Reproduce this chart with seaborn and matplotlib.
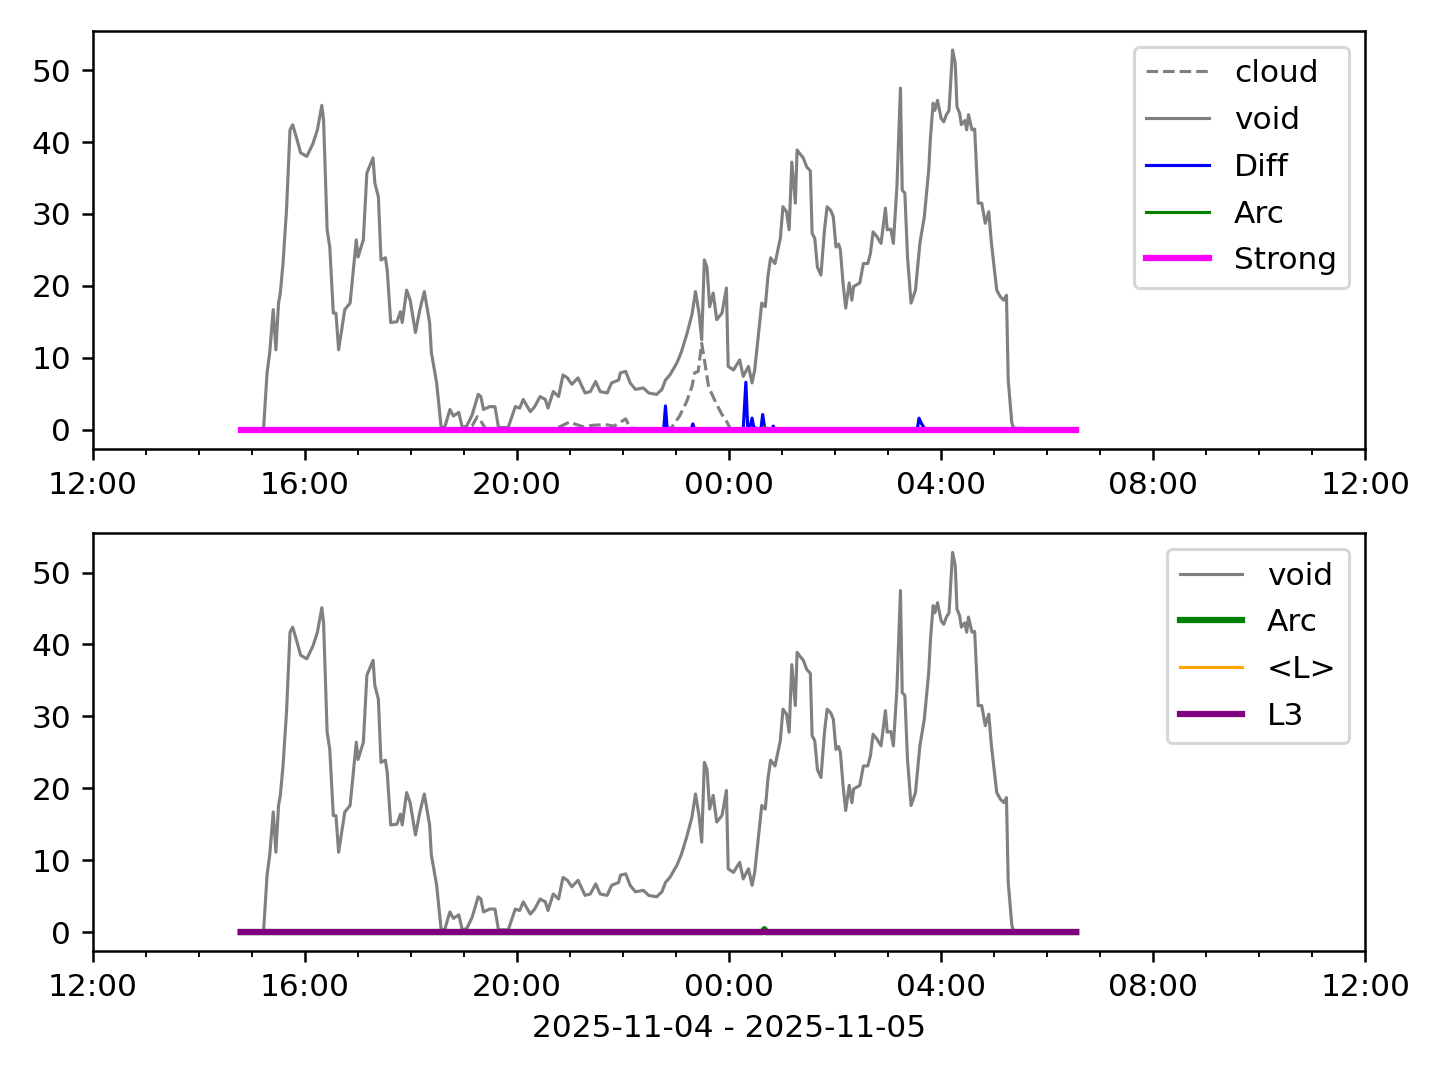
import numpy as np
import pandas as pd
import matplotlib
matplotlib.use("Agg")
import matplotlib.pyplot as plt
import matplotlib.dates as mdates
import seaborn as sns

# ---------------- DATA ----------------
void_times = ["14:47", "15:13", "15:17", "15:20", "15:24", "15:27", "15:30", "15:32", "15:35", "15:39",
              "15:43", "15:46", "15:51", "15:55", "16:02", "16:09", "16:14", "16:19", "16:21", "16:25",
              "16:28", "16:32", "16:35", "16:38", "16:45", "16:51", "16:58", "17:00", "17:06", "17:10",
              "17:17", "17:19", "17:23", "17:26", "17:31", "17:33", "17:37", "17:44", "17:48", "17:50",
              "17:55", "17:59", "18:05", "18:10", "18:15", "18:21", "18:23", "18:29", "18:34", "18:38",
              "18:44", "18:48", "18:54", "18:58", "19:03", "19:09", "19:16", "19:19", "19:22", "19:29",
              "19:35", "19:39", "19:44", "19:50", "19:58", "20:03", "20:07", "20:15", "20:20", "20:26",
              "20:32", "20:35", "20:41", "20:47", "20:52", "20:57", "21:02", "21:09", "21:17", "21:23",
              "21:29", "21:34", "21:42", "21:47", "21:55", "21:57", "22:03", "22:08", "22:14", "22:23",
              "22:29", "22:38", "22:44", "22:48", "22:53", "23:01", "23:06", "23:12", "23:18", "23:22",
              "23:26", "23:29", "23:32", "23:35", "23:38", "23:42", "23:46", "23:52", "23:57", "23:59",
              "00:05", "00:12", "00:16", "00:22", "00:26", "00:29", "00:33", "00:37", "00:41", "00:44",
              "00:47", "00:52", "00:58", "01:01", "01:05", "01:08", "01:11", "01:15", "01:17", "01:20",
              "01:24", "01:28", "01:32", "01:34", "01:37", "01:40", "01:44", "01:48", "01:51", "01:55",
              "01:58", "02:01", "02:04", "02:06", "02:09", "02:12", "02:16", "02:19", "02:21", "02:28",
              "02:32", "02:37", "02:40", "02:43", "02:47", "02:52", "02:57", "02:59", "03:03", "03:06",
              "03:10", "03:14", "03:16", "03:19", "03:22", "03:26", "03:31", "03:36", "03:41", "03:46",
              "03:48", "03:51", "03:53", "03:56", "04:00", "04:03", "04:06", "04:09", "04:13", "04:16",
              "04:18", "04:21", "04:23", "04:27", "04:29", "04:31", "04:35", "04:38", "04:42", "04:46",
              "04:50", "04:54", "04:57", "05:03", "05:07", "05:11", "05:14", "05:16", "05:20", "05:22",
              "06:33"]
void_values = [0, 0, 7.9, 10.7, 16.7, 11.1, 17.6, 19.0, 23.0, 30.5,
               41.7, 42.4, 40.3, 38.5, 38.0, 39.8, 41.7, 45.1, 43.0, 27.8,
               25.4, 16.2, 16.2, 11.1, 16.7, 17.6, 26.4, 24.0, 26.4, 35.7,
               37.8, 34.3, 32.4, 23.6, 23.9, 22.2, 14.9, 15.0, 16.4, 14.9,
               19.4, 18.0, 13.5, 16.7, 19.2, 14.9, 10.7, 6.5, 0.4, 0.3,
               2.8, 1.9, 2.4, 0.3, 0.5, 2.0, 4.9, 4.6, 2.8, 3.2,
               3.2, 0.3, 0.3, 0.3, 3.2, 3.0, 4.2, 2.5, 3.2, 4.6,
               4.2, 3.0, 5.3, 4.6, 7.6, 7.2, 6.3, 7.2, 5.1, 5.3,
               6.7, 5.3, 5.1, 6.5, 6.9, 7.9, 8.1, 6.5, 5.6, 5.8,
               5.1, 4.9, 5.6, 6.9, 7.6, 9.3, 10.8, 13.2, 16.0, 19.2,
               16.2, 12.5, 23.6, 22.6, 17.1, 19.0, 15.3, 16.2, 19.7, 8.8,
               8.3, 9.7, 7.4, 8.8, 6.5, 8.3, 12.9, 17.6, 17.1, 21.3,
               23.9, 23.1, 26.6, 31.0, 30.3, 27.8, 37.2, 31.5, 38.9, 38.4,
               37.8, 36.5, 36.0, 27.3, 26.6, 22.6, 21.5, 27.8, 31.0, 30.5,
               29.6, 25.4, 25.8, 25.0, 20.4, 16.9, 20.4, 18.0, 19.9, 20.4,
               23.1, 23.1, 24.5, 27.5, 26.9, 25.9, 30.8, 27.8, 27.9, 25.9,
               33.8, 47.5, 33.3, 32.9, 24.0, 17.6, 19.4, 25.9, 29.6, 36.1,
               40.7, 45.4, 44.4, 45.8, 43.3, 42.8, 43.8, 44.4, 52.8, 51.0,
               44.9, 44.0, 42.4, 43.0, 41.7, 43.8, 41.7, 41.8, 31.5, 31.5,
               28.7, 30.3, 25.9, 19.4, 18.5, 18.0, 18.7, 6.9, 1.0, 0.2,
               0]

cloud_times = ["14:47", "18:58", "19:09", "19:15", "19:20", "19:25", "20:41", "20:50", "21:00",
               "21:05", "21:15", "21:25", "21:40", "21:50", "22:03", "22:08", "22:45", "22:55",
               "23:04", "23:12", "23:18", "23:21", "23:25", "23:29", "23:33", "23:37", "23:40",
               "23:46", "23:52", "23:57", "00:02", "06:33"]
cloud_values = [0, 0, 0.5, 1.8, 1.0, 0, 0, 0.5, 1.1,
                0.8, 0.4, 0.6, 0.7, 0.5, 1.5, 0.2, 0, 0.3,
                1.9, 3.9, 6.0, 7.9, 8.1, 12.0, 9.0, 5.8, 5.1,
                3.5, 2.1, 1.2, 0, 0]

diff_times = ["14:47", "22:46", "22:48", "22:50", "23:17", "23:19", "23:21", "00:16", "00:19",
              "00:21", "00:23", "00:26", "00:28", "00:36", "00:38", "00:40", "00:42", "00:49",
              "00:50", "00:52", "03:33", "03:35", "03:38", "03:40", "03:42", "06:33"]
diff_values = [0, 0, 3.3, 0, 0, 0.8, 0, 0, 6.6,
               0.5, 0, 1.6, 0.3, 0, 2.1, 0.5, 0, 0,
               0.5, 0, 0, 1.6, 0.8, 0.4, 0, 0]

arc_times = ["14:47", "00:38", "00:40", "00:42", "06:33"]
arc_values = [0, 0, 0.4, 0, 0]

strong_times = ["14:47", "06:33"]
strong_values = [0, 0]
meanL_times = ["14:47", "06:33"]
meanL_values = [0, 0]
l3_times = ["14:47", "06:33"]
l3_values = [0, 0]

x_start = "2025-11-04 12:00"
x_end = "2025-11-05 12:00"
xlabel = "2025-11-04 - 2025-11-05"


def to_dt(times):
    out = []
    for t in times:
        h = int(t.split(":")[0])
        day = "2025-11-04" if h >= 12 else "2025-11-05"
        out.append(pd.Timestamp(f"{day} {t}"))
    return pd.to_datetime(out)


sns.set_style("ticks", {"axes.edgecolor": "black", "xtick.color": "black",
                        "ytick.color": "black", "text.color": "black",
                        "axes.labelcolor": "black"})
plt.rcParams["font.family"] = ["DejaVu Sans"]
plt.rcParams["lines.solid_capstyle"] = "projecting"
plt.rcParams["font.size"] = 10

fig, (ax1, ax2) = plt.subplots(2, 1, figsize=(6.4, 4.8), dpi=225)
fig.subplots_adjust(left=0.0646, right=0.948, top=0.9713, bottom=0.1194, hspace=0.203)


def draw(ax, times, values, **kw):
    sns.lineplot(x=to_dt(times), y=values, ax=ax, estimator=None, sort=True, **kw)


draw(ax1, cloud_times, cloud_values, color="gray", lw=1, linestyle="--", label="cloud")
draw(ax1, void_times, void_values, color="gray", lw=1, label="void")
draw(ax1, diff_times, diff_values, color="blue", lw=1, label="Diff")
draw(ax1, arc_times, arc_values, color="green", lw=1, label="Arc")
draw(ax1, strong_times, strong_values, color="magenta", lw=2, label="Strong")

draw(ax2, void_times, void_values, color="gray", lw=1, label="void")
draw(ax2, arc_times, arc_values, color="green", lw=2, label="Arc")
draw(ax2, meanL_times, meanL_values, color="orange", lw=1, label="<L>")
draw(ax2, l3_times, l3_values, color="purple", lw=2, label="L3")

for ax in (ax1, ax2):
    ax.set_xlim(pd.Timestamp(x_start), pd.Timestamp(x_end))
    ax.xaxis.set_major_locator(mdates.HourLocator(byhour=range(0, 24, 4)))
    ax.xaxis.set_minor_locator(mdates.HourLocator())
    ax.xaxis.set_major_formatter(mdates.DateFormatter("%H:%M"))
    ax.set_ylabel("")
    ax.set_xlabel("")
    for s in ax.spines.values():
        s.set_visible(True)
        s.set_linewidth(0.8)
    ax.tick_params(which="major", length=3.5, width=0.8, labelsize=10)
    ax.tick_params(which="minor", length=2, width=0.6)
    ax.legend(loc="upper right", fontsize=10, labelspacing=0.57)

ax2.set_xlabel(xlabel, fontsize=10)
fig.savefig("out.png", dpi=225)
